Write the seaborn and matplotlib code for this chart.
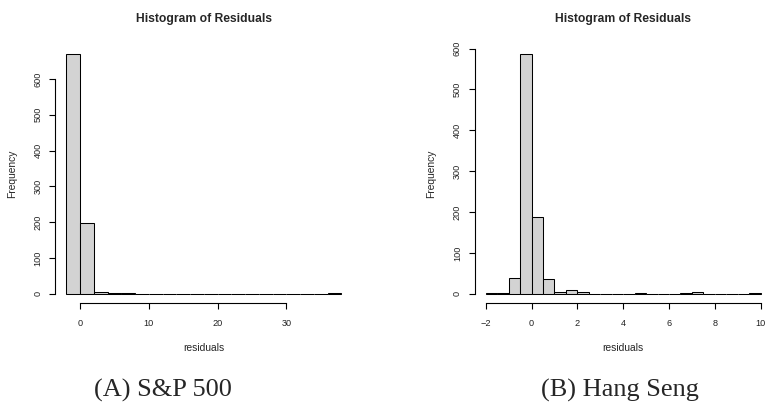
import numpy as np
import pandas as pd
import matplotlib
matplotlib.use("Agg")
import matplotlib.pyplot as plt
import seaborn as sns

# Residual histograms: bin edges and counts per bin
sp_edges = list(range(-2, 40, 2))
sp_counts = [671, 197, 6, 3, 1, 0, 0, 0, 0, 0,
             0, 0, 0, 0, 0, 0, 0, 0, 0, 1]
sp_xticks = [0, 10, 20, 30]

hs_edges = [-2 + 0.5 * i for i in range(25)]
hs_counts = [1, 1, 38, 588, 187, 37, 4, 9, 4, 0, 0, 0,
             0, 2, 0, 0, 0, 1, 3, 0, 0, 0, 0, 1]
hs_xticks = [-2, 0, 2, 4, 6, 8, 10]

yticks = [0, 100, 200, 300, 400, 500, 600]
captions = ["(A) S&P 500", "(B) Hang Seng"]
title = "Histogram of Residuals"

sns.set_style("white")
plt.rcParams["font.family"] = ["Liberation Sans", "DejaVu Sans"]

W, H = 767, 403
fig = plt.figure(figsize=(W / 100, H / 100), dpi=100)


def panel(left_px, right_px, edges, counts, xticks, caption, cap_x):
    top_px, bot_px = 43.9, 303.3
    ax = fig.add_axes([left_px / W, 1 - bot_px / H,
                       (right_px - left_px) / W, (bot_px - top_px) / H])
    edges = [float(e) for e in edges]
    centers = [(a + b) / 2 for a, b in zip(edges[:-1], edges[1:])]
    df = pd.DataFrame({"residuals": centers, "count": counts})
    sns.histplot(data=df, x="residuals", weights="count", bins=edges,
                 color="#D3D3D3", edgecolor="black", linewidth=0.75,
                 alpha=1.0, ax=ax)

    lo, hi = edges[0], edges[-1]
    pad = 0.04 * (hi - lo)
    ax.set_xlim(lo - pad, hi + pad)
    ymax = max(counts)
    ax.set_ylim(-0.04 * ymax, ymax * 1.04)

    for s in ["top", "right"]:
        ax.spines[s].set_visible(False)
    ax.spines["left"].set_bounds(yticks[0], yticks[-1])
    ax.spines["bottom"].set_bounds(xticks[0], xticks[-1])
    for s in ["left", "bottom"]:
        ax.spines[s].set_linewidth(0.8)
        ax.spines[s].set_color("black")

    ax.set_xticks(xticks)
    ax.set_xticklabels([("\u2212" + str(-t)) if t < 0 else str(t) for t in xticks])
    ax.set_yticks(yticks)
    ax.set_yticklabels([str(t) for t in yticks], rotation=90, va="center")
    ax.tick_params(axis="both", which="major", length=4.5, width=0.8,
                   color="black", labelsize=6.6, labelcolor="#222222",
                   direction="out", bottom=True, left=True)
    ax.tick_params(axis="x", pad=6.8)
    ax.tick_params(axis="y", pad=4.7)

    h_ax = bot_px - top_px
    ax.set_xlabel("residuals", fontsize=7.4, va="center")
    ax.xaxis.set_label_coords(0.5, -44.4 / h_ax)
    ax.set_ylabel("Frequency", fontsize=7.4, va="center")
    ax.yaxis.set_label_coords(-43.5 / (right_px - left_px), 0.5)
    ax.text(0.5, (bot_px - 19) / h_ax, title, transform=ax.transAxes,
            ha="center", va="center", fontsize=8.7, fontweight="bold")

    fig.text(cap_x / W, 1 - 390 / H, caption, ha="center", va="center",
             fontsize=19, family=["Liberation Serif", "DejaVu Serif"])
    return ax


panel(55.2, 352.5, sp_edges, sp_counts, sp_xticks, captions[0], 163)
panel(474.7, 771.7, hs_edges, hs_counts, hs_xticks, captions[1], 620)

fig.savefig("out.png", dpi=100)
